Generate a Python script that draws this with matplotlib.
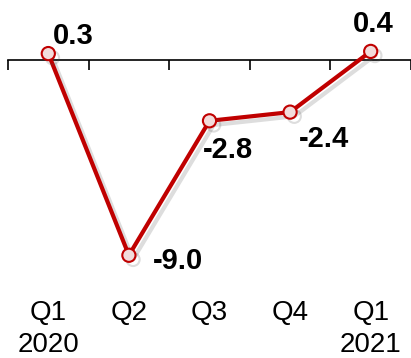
import matplotlib
matplotlib.use('Agg')
import matplotlib.pyplot as plt
import matplotlib.patheffects as pe
import matplotlib.transforms as mtransforms

plt.rcParams['font.family'] = ['Liberation Sans', 'DejaVu Sans']

# Quarterly growth, percent
quarters = ['Q1\n2020', 'Q2', 'Q3', 'Q4', 'Q1\n2021']
growth = [0.3, -9.0, -2.8, -2.4, 0.4]

# label offsets in points (dx, dy) and alignment per point
label_pos = [(18, 13, 'center'), (17, -4, 'left'), (-5, -21, 'left'),
             (6, -19, 'left'), (1.5, 19.5, 'center')]

line_red = '#C00000'
marker_fill = '#F2DCDB'

fig = plt.figure(figsize=(4.11, 3.58), dpi=100)
ax = fig.add_axes([8 / 411, 1 - 280 / 358, 1 - 8 / 411, 280 / 358])

x = list(range(len(growth)))
ax.plot(x, growth, color=line_red, lw=3, marker='o', ms=9.5,
        mfc=marker_fill, mec=line_red, mew=1.5, zorder=3,
        path_effects=[pe.SimpleLineShadow(offset=(3, -3), alpha=0.2, shadow_color='#555555'),
                      pe.Normal()])

ax.set_xlim(-0.5, 4.47)
ax.set_ylim(-10.14, 2.77)

# zero line with tick marks between categories
for s in ['top', 'right', 'left']:
    ax.spines[s].set_visible(False)
ax.spines['bottom'].set_position(('data', 0))
ax.spines['bottom'].set_linewidth(1.2)
ax.set_yticks([])
ax.set_xticks([-0.5, 0.5, 1.5, 2.5, 3.5, 4.5])
ax.set_xticklabels([])
ax.tick_params(axis='x', direction='out', length=7, width=1.2)

# category labels under the plot, one row for quarter, one for year
trans = mtransforms.blended_transform_factory(ax.transData, fig.transFigure)
for xi, q in zip(x, quarters):
    for row, part in enumerate(q.split('\n')):
        ax.text(xi, 1 - (313 + 32 * row) / 358, part, transform=trans,
                ha='center', va='center', fontsize=20)

for xi, v, (dx, dy, ha) in zip(x, growth, label_pos):
    ax.annotate(f'{v:.1f}', (xi, v), xytext=(dx, dy), textcoords='offset points',
                ha=ha, va='center', fontsize=21, fontweight='bold')

fig.savefig('out.png', dpi=100)
